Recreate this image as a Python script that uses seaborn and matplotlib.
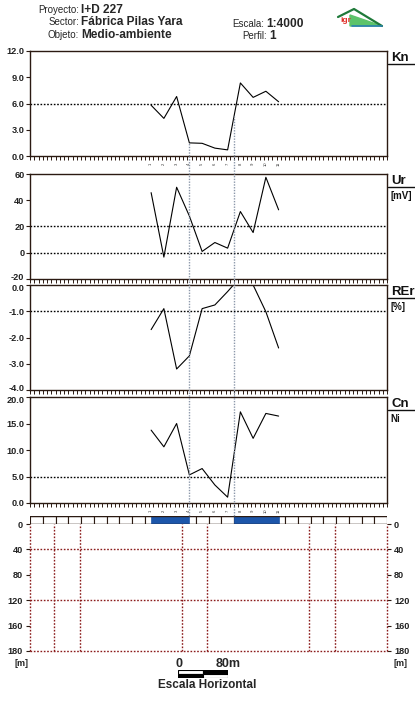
import numpy as np
import pandas as pd
import matplotlib
matplotlib.use("Agg")
import matplotlib.pyplot as plt
import matplotlib.transforms as mtransforms
from matplotlib.lines import Line2D
from matplotlib.patches import Polygon
import seaborn as sns

# ---- data ----
stations = ["1", "2", "3", "4", "5", "6", "7", "8", "9", "10", "11"]
dist = [190, 210, 230, 250, 270, 290, 310, 330, 350, 370, 390]

kn = [5.8, 4.3, 6.8, 1.5, 1.45, 0.9, 0.7, 8.35, 6.7, 7.4, 6.2]
ur = [45.8, -3.3, 49.9, 28.0, 1.0, 7.8, 3.5, 31.4, 15.4, 57.5, 32.7]
rer = [-1.7, -0.9, -3.2, -2.7, -0.9, -0.76, -0.25, 0.3, 0.0, -1.02, -2.4]
cn = [13.75, 10.6, 15.0, 5.3, 6.5, 3.4, 1.1, 17.2, 12.2, 16.9, 16.4]

kn_ticks = [0.0, 3.0, 6.0, 9.0, 12.0]
ur_ticks = [-20, 0, 20, 40, 60]
rer_ticks = [-4.0, -3.0, -2.0, -1.0, 0.0]
cn_ticks = [0.0, 5.0, 10.0, 15.0, 20.0]

kn_thr = [6.0]
ur_thr = [20, 0]
rer_thr = [-1.0]
cn_thr = [5.0]

anomaly_lines = [250, 320]
blue_start = [190, 320]
blue_end = [250, 390]

depth_labels = ["0", "40", "80", "120", "160", "180"]
depth_grid = ["40", "120", "180"]
depth_vlines = [38, 78, 238, 278, 438, 478]

profile_len = 560

# ---- style ----
sns.set_style("white")
plt.rcParams["font.family"] = ["Liberation Sans", "DejaVu Sans"]

W, H = 415, 704
fig = plt.figure(figsize=(W / 100, H / 100), dpi=100)
fig.patch.set_facecolor("white")

frame_col = "#2b1a12"
red_dot = "#8b1c1c"
grey_dot = "#8c98aa"


def rect(x0, y0, x1, y1):
    return [x0 / W, 1 - y1 / H, (x1 - x0) / W, (y1 - y0) / H]


def nudge(label, dy_px):
    label.set_transform(label.get_transform() + mtransforms.ScaledTranslation(
        0, dy_px / 100, fig.dpi_scale_trans))


X0, X1 = 30, 387

panels = [
    ("Kn", "", kn, kn_ticks, kn_thr, "{:.1f}", 51, 156),
    ("Ur", "[mV]", ur, ur_ticks, ur_thr, "{:.0f}", 174, 279),
    ("REr", "[%]", rer, rer_ticks, rer_thr, "{:.1f}", 285, 390),
    ("Cn", "Ni", cn, cn_ticks, cn_thr, "{:.1f}", 397, 503),
]

axes = []
for i, (name, sub, vals, ticks, thr, fmt, top, bot) in enumerate(panels):
    ax = fig.add_axes(rect(X0, top, X1, bot))
    ax.set_facecolor("none")
    df = pd.DataFrame({"d": dist, "v": vals})
    sns.lineplot(data=df, x="d", y="v", ax=ax, color="black", lw=0.8)
    for t in thr:
        ax.axhline(t, color="black", lw=1.0, ls=(0, (1.2, 1.2)))
    ax.set_xlim(0, profile_len)
    ax.set_ylim(ticks[0], ticks[-1])
    ax.set_yticks(ticks)
    ax.set_yticklabels([fmt.format(t) for t in ticks], fontsize=6.6,
                       fontweight="bold", color="#222")
    ax.set_xticks(np.arange(0, profile_len + 1, 20 / 3))
    ax.set_xticklabels([])
    ax.tick_params(axis="x", direction="out", length=3, width=0.7,
                   color=frame_col, bottom=True)
    ax.tick_params(axis="y", direction="out", length=3, width=0.8,
                   color=frame_col, left=True, pad=1)
    ax.set_xlabel("")
    ax.set_ylabel("")
    for s in ax.spines.values():
        s.set_color(frame_col)
        s.set_linewidth(1.0)
    # right side labels
    fig.text(391 / W, 1 - (top + 7) / H, name, fontsize=9.5,
             fontweight="bold", va="center", ha="left", color="#111")
    fig.add_artist(Line2D([388 / W, 415 / W], [1 - (top + 13) / H] * 2,
                          color="#111", lw=1.0))
    if sub:
        fig.text(390 / W, 1 - (top + 22) / H, sub, fontsize=7,
                 fontweight="bold", va="center", ha="left", color="#111")
    axes.append(ax)

# keep the stacked end labels (-20 / 0.0, -4.0 / 20.0) apart
for upper, lower in ((axes[1], axes[2]), (axes[2], axes[3])):
    nudge(upper.get_yticklabels()[0], 2.5)
    nudge(lower.get_yticklabels()[-1], -2.5)

# station numbers under first and last panel
for ax in (axes[0], axes[3]):
    tr = mtransforms.blended_transform_factory(ax.transData, ax.transAxes)
    for d, s in zip(dist, stations):
        ax.text(d, -0.075, s, fontsize=3, rotation=90, ha="center",
                va="center", transform=tr, color="#333")

# anomaly markers (grey dotted verticals)
ax1 = axes[0]
for a in anomaly_lines:
    yv = np.interp(a, dist, kn)
    ax1.plot([a, a], [0, yv], color=grey_dot, lw=1.0, ls=(0, (1, 1)))
blend = mtransforms.blended_transform_factory(axes[3].transData, fig.transFigure)
for a in anomaly_lines:
    fig.add_artist(Line2D([a, a], [1 - 156 / H, 1 - 517 / H], transform=blend,
                          color=grey_dot, lw=1.0, ls=(0, (1, 1)), zorder=3))

# box strip
axs = fig.add_axes(rect(X0, 516, X1, 524))
edges = np.arange(0, profile_len, 20)
axs.bar(edges, 1, width=20, align="edge", color="white",
        edgecolor=frame_col, lw=0.8)
axs.bar(blue_start, 1, width=np.array(blue_end) - np.array(blue_start),
        align="edge", color="#1c56aa", edgecolor="#1c56aa", lw=0.5)
axs.set_xlim(0, profile_len)
axs.set_ylim(0, 1)
axs.axis("off")
axs.add_artist(Line2D([0, 1], [0, 0], transform=axs.transAxes, color=frame_col, lw=1))
axs.add_artist(Line2D([0, 1], [1, 1], transform=axs.transAxes, color=frame_col, lw=1))

# depth section
axd = fig.add_axes(rect(X0, 524, X1, 651))
pos = np.arange(len(depth_labels))
axd.set_xlim(0, profile_len)
axd.set_ylim(pos[-1], 0)
for g in depth_grid:
    axd.axhline(depth_labels.index(g), color=red_dot, lw=1.0,
                ls=(0, (1.2, 1.2)), clip_on=False)
for v in depth_vlines + [0, profile_len]:
    axd.axvline(v, color=red_dot, lw=1.0, ls=(0, (1.2, 1.2)), clip_on=False)
for s in axd.spines.values():
    s.set_visible(False)
axd.set_xticks([])
axd.set_yticks(pos)
axd.set_yticklabels(depth_labels, fontsize=6.6, fontweight="bold", color="#222")
axd.tick_params(axis="y", direction="out", length=3, width=0.8, color=frame_col,
                left=True, right=True, labelright=True, pad=2)

fig.text(14 / W, 1 - 664 / H, "[m]", fontsize=6.5, fontweight="bold",
         ha="left", va="center", color="#222")
fig.text(393 / W, 1 - 664 / H, "[m]", fontsize=6.5, fontweight="bold",
         ha="left", va="center", color="#222")

# horizontal scale bar
axb = fig.add_axes(rect(178, 670, 228, 678))
axb.bar([0, 40], 1, width=40, bottom=1, align="edge",
        color=["white", "black"], edgecolor="black", lw=0.8)
axb.bar([0, 40], 1, width=40, bottom=0, align="edge",
        color=["black", "white"], edgecolor="black", lw=0.8)
axb.set_xlim(0, 80)
axb.set_ylim(0, 2)
axb.axis("off")
fig.text(179 / W, 1 - 664 / H, "0", fontsize=9, fontweight="bold",
         ha="center", va="center")
fig.text(228 / W, 1 - 664 / H, "80m", fontsize=9, fontweight="bold",
         ha="center", va="center")
fig.text(207 / W, 1 - 685 / H, "Escala Horizontal", fontsize=8.5,
         fontweight="bold", ha="center", va="center")

# header
hdr = [("Proyecto:", "I+D 227", 10), ("Sector:", "Fábrica Pilas Yara", 22),
       ("Objeto:", "Medio-ambiente", 35)]
for lab, val, y in hdr:
    fig.text(79 / W, 1 - y / H, lab, fontsize=7, ha="right", va="center")
    fig.text(81 / W, 1 - y / H, val, fontsize=8.6, fontweight="bold",
             ha="left", va="center")
fig.text(264 / W, 1 - 24 / H, "Escala:", fontsize=7, ha="right", va="center")
fig.text(266 / W, 1 - 24 / H, "1:4000", fontsize=8.6, fontweight="bold",
         ha="left", va="center")
fig.text(267 / W, 1 - 36 / H, "Perfil:", fontsize=7, ha="right", va="center")
fig.text(269 / W, 1 - 36 / H, "1", fontsize=8.6, fontweight="bold",
         ha="left", va="center")

# logo
axl = fig.add_axes(rect(330, 2, 392, 30))
axl.set_xlim(330, 392)
axl.set_ylim(30, 2)
axl.axis("off")
axl.add_patch(Polygon([(350, 15), (382, 26), (350, 26)], closed=True,
                      color="#5cc36a"))
axl.plot([338, 354, 382], [17, 9, 26], color="#1f7a3a", lw=1.6)
axl.plot([352, 382], [26, 26], color="#2a7fb0", lw=1.2)
axl.text(346, 21, "igr", fontsize=6, fontweight="bold", color="#e0302a",
         ha="center", va="center")

fig.savefig("out.png", dpi=100)
